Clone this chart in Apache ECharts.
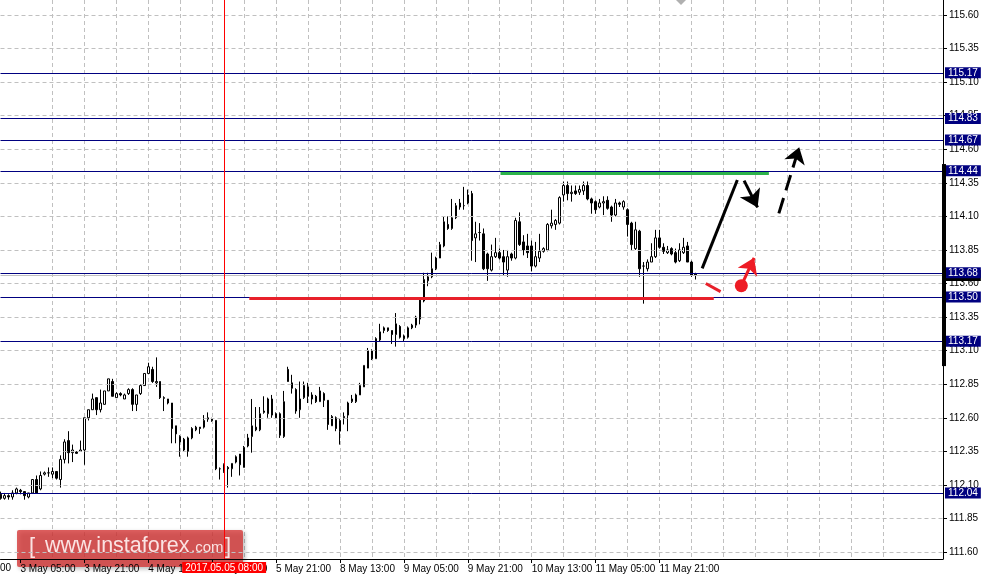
<!DOCTYPE html>
<html><head><meta charset="utf-8">
<script src="https://cdn.jsdelivr.net/npm/echarts@6/dist/echarts.min.js"></script>
<style>html,body{margin:0;padding:0;background:#fff}#c{width:984px;height:582px}</style>
</head><body><div id="c"></div>
<script>
// [open, close, low, high] hourly candles
const candles = [
[112.03,112.00,111.99,112.05],[112.00,112.02,111.99,112.04],[112.02,112.01,111.99,112.03],[112.01,112.04,111.99,112.06],
[112.04,112.07,112.03,112.08],[112.06,112.05,112.03,112.07],[112.05,112.02,111.99,112.05],[112.01,112.04,112.00,112.04],
[112.04,112.14,112.04,112.14],[112.14,112.04,112.04,112.17],[112.07,112.17,112.06,112.20],[112.18,112.19,112.17,112.20],
[112.19,112.19,112.16,112.23],[112.18,112.20,112.15,112.23],[112.20,112.15,112.14,112.20],[112.14,112.29,112.08,112.32],
[112.29,112.42,112.26,112.44],[112.43,112.34,112.26,112.50],[112.34,112.36,112.27,112.40],[112.345,112.335,112.33,112.35],
[112.35,112.36,112.35,112.43],[112.36,112.60,112.25,112.60],[112.60,112.66,112.58,112.66],[112.66,112.74,112.66,112.78],
[112.75,112.66,112.62,112.75],[112.66,112.71,112.64,112.81],[112.70,112.80,112.70,112.80],[112.80,112.89,112.80,112.89],
[112.87,112.76,112.76,112.89],[112.75,112.78,112.75,112.79],[112.78,112.77,112.76,112.79],[112.74,112.77,112.74,112.78],
[112.78,112.81,112.77,112.82],[112.81,112.70,112.65,112.82],[112.70,112.77,112.65,112.77],[112.78,112.84,112.77,112.85],
[112.84,112.93,112.84,112.93],[112.93,112.98,112.93,113.01],[112.96,112.87,112.86,112.98],[112.86,112.87,112.83,113.05],
[112.87,112.75,112.74,112.87],[112.75,112.745,112.65,112.76],[112.74,112.71,112.70,112.74],[112.71,112.52,112.41,112.71],
[112.54,112.48,112.41,112.54],[112.46,112.42,112.31,112.47],[112.44,112.36,112.35,112.45],[112.35,112.45,112.31,112.46],
[112.45,112.52,112.44,112.53],[112.51,112.53,112.50,112.54],[112.53,112.52,112.48,112.53],[112.53,112.58,112.52,112.62],
[112.59,112.60,112.57,112.64],[112.59,112.58,112.57,112.60],[112.58,112.22,112.21,112.58],[112.22,112.22,112.14,112.23],
[112.25,112.20,112.19,112.26],[112.23,112.22,112.08,112.24],[112.22,112.26,112.16,112.26],[112.27,112.31,112.26,112.32],
[112.33,112.25,112.17,112.33],[112.23,112.38,112.23,112.39],[112.39,112.45,112.38,112.48],[112.46,112.54,112.34,112.74],
[112.53,112.51,112.50,112.68],[112.51,112.63,112.50,112.68],[112.64,112.65,112.63,112.76],[112.63,112.74,112.60,112.75],
[112.74,112.62,112.60,112.77],[112.63,112.60,112.59,112.64],[112.63,112.47,112.45,112.64],[112.46,112.72,112.45,112.80],
[112.96,112.87,112.87,112.98],[112.86,112.82,112.78,112.92],[112.81,112.65,112.63,112.82],[112.66,112.74,112.60,112.87],
[112.75,112.84,112.74,112.87],[112.83,112.76,112.71,112.86],[112.77,112.74,112.70,112.79],[112.76,112.72,112.71,112.77],
[112.72,112.80,112.72,112.83],[112.78,112.73,112.68,112.79],[112.73,112.55,112.51,112.73],[112.54,112.61,112.54,112.62],
[112.60,112.52,112.50,112.61],[112.50,112.58,112.40,112.59],[112.60,112.61,112.55,112.64],[112.62,112.71,112.50,112.72],
[112.72,112.74,112.71,112.77],[112.72,112.77,112.71,112.78],[112.77,112.84,112.77,112.86],[112.83,112.99,112.83,112.99],
[112.97,113.10,112.97,113.12],[113.10,113.04,113.03,113.11],[113.04,113.19,113.04,113.20],[113.18,113.24,113.17,113.30],
[113.25,113.27,113.23,113.28],[113.27,113.25,113.24,113.27],[113.25,113.22,113.15,113.25],[113.22,113.30,113.13,113.38],
[113.28,113.20,113.19,113.29],[113.21,113.19,113.17,113.22],[113.20,113.27,113.19,113.28],[113.27,113.29,113.26,113.30],
[113.29,113.35,113.27,113.36],[113.335,113.477,113.296,113.48],[113.47,113.63,113.46,113.68],[113.62,113.65,113.58,113.68],
[113.65,113.71,113.64,113.83],[113.71,113.79,113.70,113.80],[113.79,113.89,113.79,113.91],[113.88,114.06,113.87,114.10],
[114.04,114.01,114.00,114.10],[114.01,114.09,114.00,114.23],[114.09,114.18,114.08,114.20],[114.20,114.17,114.15,114.23],
[114.18,114.18,114.15,114.32],[114.20,114.26,114.19,114.30],[114.27,113.92,113.77,114.29],[113.94,113.97,113.76,114.06],
[113.98,113.98,113.92,114.05],[113.97,113.71,113.70,114.01],[113.82,113.71,113.62,113.83],[113.70,113.80,113.69,113.89],
[113.80,113.83,113.79,113.94],[113.83,113.79,113.78,113.86],[113.80,113.76,113.66,113.85],[113.70,113.80,113.65,113.85],
[113.82,113.79,113.77,113.83],[113.79,114.07,113.78,114.09],[114.06,113.89,113.88,114.13],[113.91,113.85,113.81,113.96],
[113.88,113.83,113.79,113.97],[113.88,113.73,113.69,113.92],[113.73,113.80,113.72,113.91],[113.79,113.84,113.76,113.97],
[113.84,113.86,113.83,113.87],[113.85,114.04,113.84,114.05],[114.03,114.05,114.01,114.15],[114.04,114.07,114.00,114.08],
[114.05,114.24,114.04,114.25],[114.26,114.33,114.21,114.36],[114.33,114.27,114.22,114.36],[114.27,114.28,114.21,114.33],
[114.29,114.27,114.26,114.33],[114.28,114.30,114.26,114.33],[114.29,114.33,114.26,114.36],[114.33,114.23,114.22,114.36],
[114.23,114.20,114.12,114.24],[114.21,114.15,114.12,114.22],[114.17,114.20,114.16,114.23],[114.20,114.21,114.11,114.25],
[114.22,114.16,114.15,114.25],[114.17,114.11,114.06,114.18],[114.11,114.20,114.10,114.23],[114.20,114.19,114.17,114.21],
[114.17,114.21,114.15,114.22],[114.15,114.04,113.95,114.16],[114.05,113.89,113.85,114.06],[113.86,114.00,113.85,114.06],
[113.99,113.71,113.65,114.00],[113.73,113.73,113.45,113.76],[113.71,113.76,113.69,113.78],[113.76,113.80,113.76,113.90],
[113.80,113.94,113.79,114.00],[113.94,113.87,113.86,114.00],[113.87,113.84,113.82,113.90],[113.83,113.85,113.82,113.88],
[113.86,113.82,113.81,113.87],[113.83,113.76,113.75,113.86],[113.77,113.85,113.76,113.90],[113.83,113.87,113.82,113.94],
[113.88,113.76,113.76,113.91],[113.76,113.66,113.65,113.77],[113.67,113.66,113.63,113.68]
];
const slotCount = 237;                       // chart has empty shift area on the right
const tickIndex = [5,21,37,53,69,85,101,117,133,149,165];
const tickLabels = ['3 May 05:00','3 May 21:00','4 May 13:00','5 May 05:00','5 May 21:00','8 May 13:00','9 May 05:00','9 May 21:00','10 May 13:00','11 May 05:00','11 May 21:00'];
const yTicks = [111.60,111.85,112.10,112.35,112.60,112.85,113.10,113.35,113.60,113.85,114.10,114.35,114.60,114.85,115.10,115.35,115.60];
const yMin = 111.548, yMax = 115.712;
const levels = [115.17,114.83,114.67,114.44,113.68,113.50,113.17,112.04];
const markerIndex = 56, markerLabel = '2017.05.05 08:00';
const rightBar = [112.985, 114.49];
// drawn annotations: [slot index, price]
const greenLine = [[125.2,114.42],[192.4,114.42]];
const redLine = [[62.3,113.49],[178.6,113.49]];
const trendUp = [[175.7,113.713],[184.5,114.371]];
const arrowDown = [[186.2,114.366],[189.57,114.167]];
const arrowUpDashed = [[194.9,114.123],[200.0,114.616]];
const redDash = [[176.6,113.60],[180.3,113.54]];
const redDot = [[185.5,113.584]];
const redArrow = [[185.5,113.584],[188.7,113.792]];

const FONT = 'Tahoma, "Liberation Sans", Arial, sans-serif';
const slots = Array.from({length: slotCount}, (_, i) => String(i));
const bid = candles[candles.length - 1][1];
const isTick = i => tickIndex.indexOf(i) >= 0;
const isGrid = i => i >= 5 && (i - 5) % 8 === 0;

const chart = echarts.init(document.getElementById('c'), null, {renderer: 'canvas'});
const levelLines = levels.map(v => ({
  yAxis: v,
  lineStyle: {color: '#000080', width: 1, type: 'solid'},
  label: {show: true, position: 'end', distance: 2, formatter: v.toFixed(2), backgroundColor: '#000080',
          color: '#fff', padding: [1, 3, 0, 3], fontSize: 10, fontFamily: FONT}
}));
function linesSeries(data, color, width, type, arrow, size) {
  return {type: 'lines', coordinateSystem: 'cartesian2d', xAxisIndex: 1, yAxisIndex: 0, silent: true,
    animation: false, symbol: arrow ? ['none', 'arrow'] : ['none', 'none'], symbolSize: size || 12, z: 5,
    lineStyle: {color: color, width: width, type: type, opacity: 1, cap: 'butt'},
    data: [{coords: data}]};
}
chart.setOption({
  animation: false,
  backgroundColor: '#fff',
  grid: {left: 0.5, right: 41, top: 0, bottom: 23, containLabel: false},
  xAxis: [{
    type: 'category', data: slots, boundaryGap: false,
    axisLine: {show: true, onZero: false, lineStyle: {color: '#000', width: 1}},
    axisTick: {show: true, interval: (i) => isTick(i), length: 4, lineStyle: {color: '#000'}},
    axisLabel: {show: true, interval: (i) => isTick(i), align: 'left', margin: 5, color: '#000', fontSize: 10, fontFamily: FONT,
      formatter: (v, i) => { const k = tickIndex.indexOf(Number(v)); return k >= 0 ? tickLabels[k] : ''; }},
    splitLine: {show: true, showMinLine: false, showMaxLine: false, interval: (i) => isGrid(i),
      lineStyle: {color: '#c0c0c0', width: 1, type: [4, 3]}}
  }, {
    type: 'value', min: 0, max: slotCount - 1, show: false,
    axisLine: {show: false, onZero: false}, splitLine: {show: false}, axisTick: {show: false}, axisLabel: {show: false}
  }],
  yAxis: [{
    type: 'value', position: 'right', min: yMin, max: yMax,
    axisLine: {show: true, onZero: false, lineStyle: {color: '#000', width: 1}},
    axisTick: {show: true, length: 4, customValues: yTicks, lineStyle: {color: '#000'}},
    axisLabel: {show: true, customValues: yTicks, margin: 6, color: '#000', fontSize: 10, fontFamily: FONT,
      formatter: v => v.toFixed(2)},
    splitLine: {show: false}
  }],
  series: [{
    // horizontal price grid, drawn behind the candles
    type: 'line', data: [], z: 1, silent: true,
    markLine: {silent: true, symbol: ['none', 'none'], animation: false, label: {show: false},
      lineStyle: {color: '#c0c0c0', width: 1, type: [4, 3]},
      data: yTicks.map(v => ({yAxis: v}))}
  }, {
    type: 'candlestick', data: candles, barWidth: 2, z: 3,
    itemStyle: {color: '#fff', color0: '#000', borderColor: '#000', borderColor0: '#000', borderWidth: 1},
    markLine: {
      silent: true, symbol: ['none', 'none'], animation: false,
      data: [
        {yAxis: bid, lineStyle: {color: '#c0c0c0', width: 1, type: 'solid'},
         label: {show: true, position: 'end', distance: 2, formatter: bid.toFixed(2), backgroundColor: '#000', color: '#fff',
                 padding: [1, 3, 0, 3], fontSize: 10, fontFamily: FONT}},
        ...levelLines,
        {xAxis: markerIndex, lineStyle: {color: '#ff0000', width: 1, type: 'solid'},
         label: {show: true, position: 'start', distance: 3, formatter: markerLabel, backgroundColor: '#ff0000', color: '#fff',
                 padding: [1, 3, 0, 3], fontSize: 10, fontFamily: FONT}}
      ]
    }
  },
  linesSeries(greenLine, '#2db34a', 3, 'solid', false),
  linesSeries(redLine, '#e8202a', 3, 'solid', false),
  linesSeries(trendUp, '#000', 3, 'solid', false),
  linesSeries(arrowDown, '#000', 3, 'solid', true, 17),
  linesSeries(arrowUpDashed, '#000', 3, [16, 8], true, 16),
  linesSeries(redDash, '#e8202a', 3, 'solid', false),
  linesSeries(redArrow, '#ee1c25', 3, 'solid', true, 16),
  {type: 'scatter', xAxisIndex: 1, yAxisIndex: 0, data: redDot, symbolSize: 13, z: 6, silent: true,
   itemStyle: {color: '#ee1c25', opacity: 1}}
  ]
});

const yTop = chart.convertToPixel({yAxisIndex: 0}, rightBar[1]);
const yBot = chart.convertToPixel({yAxisIndex: 0}, rightBar[0]);
chart.setOption({graphic: [
  {type: 'rect', shape: {x: 942, y: yTop, width: 4, height: yBot - yTop}, style: {fill: '#000'}, z: 50},
  {type: 'polygon', shape: {points: [[676, 0], [686, 0], [681, 5]]}, style: {fill: '#b0b0b0'}, z: 50},
  {type: 'text', left: 0, top: 563, style: {text: '00', fontSize: 10, fontFamily: FONT, fill: '#000'}, z: 50},
  {type: 'group', left: 17, top: 530, z: 100, children: [
    {type: 'rect', shape: {x: 0, y: 0, width: 226, height: 37, r: 2},
     style: {fill: 'rgba(214,52,52,0.78)', shadowBlur: 4, shadowColor: 'rgba(0,0,0,0.35)', shadowOffsetX: 2, shadowOffsetY: 2}},
    {type: 'text', x: 12, y: 6, style: {text: '[', fontSize: 22, fontFamily: 'Arial, "Liberation Sans"', fill: '#fbe3e3'}},
    {type: 'text', x: 28, y: 5, style: {text: 'www.instaforex', fontSize: 21.5, fontFamily: 'Arial, "Liberation Sans"', fill: '#fbe3e3'}},
    {type: 'text', x: 174, y: 10, style: {text: '.com', fontSize: 15, fontFamily: 'Arial, "Liberation Sans"', fill: '#fbe3e3'}},
    {type: 'text', x: 208, y: 6, style: {text: ']', fontSize: 22, fontFamily: 'Arial, "Liberation Sans"', fill: '#fbe3e3'}}
  ]}
]});
</script></body></html>
